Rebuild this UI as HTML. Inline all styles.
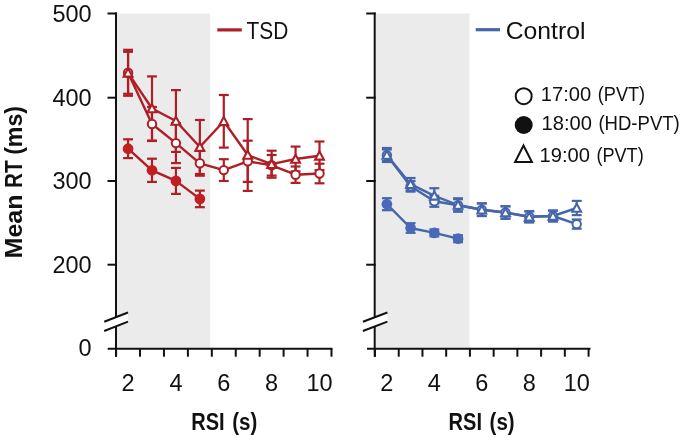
<!DOCTYPE html>
<html><head><meta charset="utf-8"><style>
html,body{margin:0;padding:0;background:#fff;width:680px;height:438px;overflow:hidden}
svg{display:block;will-change:transform;font-family:"Liberation Sans", sans-serif}
</style></head><body>
<svg width="680" height="438" viewBox="0 0 680 438">
<rect width="680" height="438" fill="#fff"/>
<rect x="117" y="13.5" width="93.20" height="335.20" fill="#EBEBEB"/>
<line x1="116.0" y1="12.5" x2="116.0" y2="356.7" stroke="#111" stroke-width="2"/>
<line x1="107.5" y1="13.5" x2="117.0" y2="13.5" stroke="#111" stroke-width="2"/>
<line x1="107.5" y1="97.7" x2="117.0" y2="97.7" stroke="#111" stroke-width="2"/>
<line x1="107.5" y1="181.0" x2="117.0" y2="181.0" stroke="#111" stroke-width="2"/>
<line x1="107.5" y1="264.7" x2="117.0" y2="264.7" stroke="#111" stroke-width="2"/>
<line x1="107.7" y1="348.7" x2="332.5" y2="348.7" stroke="#111" stroke-width="2"/>
<line x1="116.10" y1="348.7" x2="116.10" y2="356.7" stroke="#111" stroke-width="2"/>
<line x1="140.03" y1="348.7" x2="140.03" y2="356.7" stroke="#111" stroke-width="2"/>
<line x1="163.96" y1="348.7" x2="163.96" y2="356.7" stroke="#111" stroke-width="2"/>
<line x1="187.89" y1="348.7" x2="187.89" y2="356.7" stroke="#111" stroke-width="2"/>
<line x1="211.82" y1="348.7" x2="211.82" y2="356.7" stroke="#111" stroke-width="2"/>
<line x1="235.75" y1="348.7" x2="235.75" y2="356.7" stroke="#111" stroke-width="2"/>
<line x1="259.68" y1="348.7" x2="259.68" y2="356.7" stroke="#111" stroke-width="2"/>
<line x1="283.61" y1="348.7" x2="283.61" y2="356.7" stroke="#111" stroke-width="2"/>
<line x1="307.54" y1="348.7" x2="307.54" y2="356.7" stroke="#111" stroke-width="2"/>
<line x1="331.47" y1="348.7" x2="331.47" y2="356.7" stroke="#111" stroke-width="2"/>
<polygon points="104.2,321.7 128.0,312.5 128.0,321.6 104.2,331" fill="#fff"/>
<line x1="104.2" y1="321.7" x2="128.0" y2="312.5" stroke="#111" stroke-width="2"/>
<line x1="104.2" y1="331" x2="128.0" y2="321.6" stroke="#111" stroke-width="2"/>
<polyline points="128.06,72.80 152.00,124.00 175.93,143.10 199.85,163.30 223.78,170.10 247.72,161.30 271.64,165.30 295.57,174.70 319.50,173.50" fill="none" stroke="#AE1E24" stroke-width="2.4" stroke-linejoin="round"/>
<polyline points="128.06,148.70 152.00,170.30 175.93,180.90 199.85,198.90" fill="none" stroke="#AE1E24" stroke-width="2.4" stroke-linejoin="round"/>
<polyline points="128.06,72.80 152.00,108.50 175.93,121.00 199.85,147.00 223.78,121.30 247.72,155.00 271.64,164.20 295.57,159.00 319.50,155.80" fill="none" stroke="#AE1E24" stroke-width="2.4" stroke-linejoin="round"/>
<line x1="128.06" y1="51.80" x2="128.06" y2="93.80" stroke="#AE1E24" stroke-width="2.2"/>
<line x1="123.11" y1="51.80" x2="133.01" y2="51.80" stroke="#AE1E24" stroke-width="2.2"/>
<line x1="123.11" y1="93.80" x2="133.01" y2="93.80" stroke="#AE1E24" stroke-width="2.2"/>
<line x1="152.00" y1="107.00" x2="152.00" y2="141.00" stroke="#AE1E24" stroke-width="2.2"/>
<line x1="147.05" y1="107.00" x2="156.94" y2="107.00" stroke="#AE1E24" stroke-width="2.2"/>
<line x1="147.05" y1="141.00" x2="156.94" y2="141.00" stroke="#AE1E24" stroke-width="2.2"/>
<line x1="175.93" y1="123.10" x2="175.93" y2="163.10" stroke="#AE1E24" stroke-width="2.2"/>
<line x1="170.98" y1="123.10" x2="180.88" y2="123.10" stroke="#AE1E24" stroke-width="2.2"/>
<line x1="170.98" y1="163.10" x2="180.88" y2="163.10" stroke="#AE1E24" stroke-width="2.2"/>
<line x1="199.85" y1="150.90" x2="199.85" y2="175.70" stroke="#AE1E24" stroke-width="2.2"/>
<line x1="194.91" y1="150.90" x2="204.80" y2="150.90" stroke="#AE1E24" stroke-width="2.2"/>
<line x1="194.91" y1="175.70" x2="204.80" y2="175.70" stroke="#AE1E24" stroke-width="2.2"/>
<line x1="223.78" y1="159.20" x2="223.78" y2="181.00" stroke="#AE1E24" stroke-width="2.2"/>
<line x1="218.84" y1="159.20" x2="228.73" y2="159.20" stroke="#AE1E24" stroke-width="2.2"/>
<line x1="218.84" y1="181.00" x2="228.73" y2="181.00" stroke="#AE1E24" stroke-width="2.2"/>
<line x1="247.72" y1="140.70" x2="247.72" y2="181.90" stroke="#AE1E24" stroke-width="2.2"/>
<line x1="242.77" y1="140.70" x2="252.66" y2="140.70" stroke="#AE1E24" stroke-width="2.2"/>
<line x1="242.77" y1="181.90" x2="252.66" y2="181.90" stroke="#AE1E24" stroke-width="2.2"/>
<line x1="271.64" y1="155.00" x2="271.64" y2="175.60" stroke="#AE1E24" stroke-width="2.2"/>
<line x1="266.69" y1="155.00" x2="276.59" y2="155.00" stroke="#AE1E24" stroke-width="2.2"/>
<line x1="266.69" y1="175.60" x2="276.59" y2="175.60" stroke="#AE1E24" stroke-width="2.2"/>
<line x1="295.57" y1="166.50" x2="295.57" y2="182.90" stroke="#AE1E24" stroke-width="2.2"/>
<line x1="290.62" y1="166.50" x2="300.52" y2="166.50" stroke="#AE1E24" stroke-width="2.2"/>
<line x1="290.62" y1="182.90" x2="300.52" y2="182.90" stroke="#AE1E24" stroke-width="2.2"/>
<line x1="319.50" y1="163.70" x2="319.50" y2="183.30" stroke="#AE1E24" stroke-width="2.2"/>
<line x1="314.56" y1="163.70" x2="324.45" y2="163.70" stroke="#AE1E24" stroke-width="2.2"/>
<line x1="314.56" y1="183.30" x2="324.45" y2="183.30" stroke="#AE1E24" stroke-width="2.2"/>
<line x1="128.06" y1="139.30" x2="128.06" y2="158.10" stroke="#AE1E24" stroke-width="2.2"/>
<line x1="123.11" y1="139.30" x2="133.01" y2="139.30" stroke="#AE1E24" stroke-width="2.2"/>
<line x1="123.11" y1="158.10" x2="133.01" y2="158.10" stroke="#AE1E24" stroke-width="2.2"/>
<line x1="152.00" y1="158.70" x2="152.00" y2="181.90" stroke="#AE1E24" stroke-width="2.2"/>
<line x1="147.05" y1="158.70" x2="156.94" y2="158.70" stroke="#AE1E24" stroke-width="2.2"/>
<line x1="147.05" y1="181.90" x2="156.94" y2="181.90" stroke="#AE1E24" stroke-width="2.2"/>
<line x1="175.93" y1="167.90" x2="175.93" y2="193.90" stroke="#AE1E24" stroke-width="2.2"/>
<line x1="170.98" y1="167.90" x2="180.88" y2="167.90" stroke="#AE1E24" stroke-width="2.2"/>
<line x1="170.98" y1="193.90" x2="180.88" y2="193.90" stroke="#AE1E24" stroke-width="2.2"/>
<line x1="199.85" y1="190.60" x2="199.85" y2="207.20" stroke="#AE1E24" stroke-width="2.2"/>
<line x1="194.91" y1="190.60" x2="204.80" y2="190.60" stroke="#AE1E24" stroke-width="2.2"/>
<line x1="194.91" y1="207.20" x2="204.80" y2="207.20" stroke="#AE1E24" stroke-width="2.2"/>
<line x1="128.06" y1="49.80" x2="128.06" y2="95.80" stroke="#AE1E24" stroke-width="2.2"/>
<line x1="123.11" y1="49.80" x2="133.01" y2="49.80" stroke="#AE1E24" stroke-width="2.2"/>
<line x1="123.11" y1="95.80" x2="133.01" y2="95.80" stroke="#AE1E24" stroke-width="2.2"/>
<line x1="152.00" y1="76.40" x2="152.00" y2="140.60" stroke="#AE1E24" stroke-width="2.2"/>
<line x1="147.05" y1="76.40" x2="156.94" y2="76.40" stroke="#AE1E24" stroke-width="2.2"/>
<line x1="147.05" y1="140.60" x2="156.94" y2="140.60" stroke="#AE1E24" stroke-width="2.2"/>
<line x1="175.93" y1="90.10" x2="175.93" y2="151.90" stroke="#AE1E24" stroke-width="2.2"/>
<line x1="170.98" y1="90.10" x2="180.88" y2="90.10" stroke="#AE1E24" stroke-width="2.2"/>
<line x1="170.98" y1="151.90" x2="180.88" y2="151.90" stroke="#AE1E24" stroke-width="2.2"/>
<line x1="199.85" y1="120.00" x2="199.85" y2="174.00" stroke="#AE1E24" stroke-width="2.2"/>
<line x1="194.91" y1="120.00" x2="204.80" y2="120.00" stroke="#AE1E24" stroke-width="2.2"/>
<line x1="194.91" y1="174.00" x2="204.80" y2="174.00" stroke="#AE1E24" stroke-width="2.2"/>
<line x1="223.78" y1="95.00" x2="223.78" y2="147.60" stroke="#AE1E24" stroke-width="2.2"/>
<line x1="218.84" y1="95.00" x2="228.73" y2="95.00" stroke="#AE1E24" stroke-width="2.2"/>
<line x1="218.84" y1="147.60" x2="228.73" y2="147.60" stroke="#AE1E24" stroke-width="2.2"/>
<line x1="247.72" y1="119.10" x2="247.72" y2="190.90" stroke="#AE1E24" stroke-width="2.2"/>
<line x1="242.77" y1="119.10" x2="252.66" y2="119.10" stroke="#AE1E24" stroke-width="2.2"/>
<line x1="242.77" y1="190.90" x2="252.66" y2="190.90" stroke="#AE1E24" stroke-width="2.2"/>
<line x1="271.64" y1="150.70" x2="271.64" y2="177.70" stroke="#AE1E24" stroke-width="2.2"/>
<line x1="266.69" y1="150.70" x2="276.59" y2="150.70" stroke="#AE1E24" stroke-width="2.2"/>
<line x1="266.69" y1="177.70" x2="276.59" y2="177.70" stroke="#AE1E24" stroke-width="2.2"/>
<line x1="295.57" y1="146.60" x2="295.57" y2="171.40" stroke="#AE1E24" stroke-width="2.2"/>
<line x1="290.62" y1="146.60" x2="300.52" y2="146.60" stroke="#AE1E24" stroke-width="2.2"/>
<line x1="290.62" y1="171.40" x2="300.52" y2="171.40" stroke="#AE1E24" stroke-width="2.2"/>
<line x1="319.50" y1="141.50" x2="319.50" y2="170.10" stroke="#AE1E24" stroke-width="2.2"/>
<line x1="314.56" y1="141.50" x2="324.45" y2="141.50" stroke="#AE1E24" stroke-width="2.2"/>
<line x1="314.56" y1="170.10" x2="324.45" y2="170.10" stroke="#AE1E24" stroke-width="2.2"/>
<circle cx="128.06" cy="72.80" r="4.2" fill="#fff" stroke="#AE1E24" stroke-width="2"/>
<circle cx="152.00" cy="124.00" r="4.2" fill="#fff" stroke="#AE1E24" stroke-width="2"/>
<circle cx="175.93" cy="143.10" r="4.2" fill="#fff" stroke="#AE1E24" stroke-width="2"/>
<circle cx="199.85" cy="163.30" r="4.2" fill="#fff" stroke="#AE1E24" stroke-width="2"/>
<circle cx="223.78" cy="170.10" r="4.2" fill="#fff" stroke="#AE1E24" stroke-width="2"/>
<circle cx="247.72" cy="161.30" r="4.2" fill="#fff" stroke="#AE1E24" stroke-width="2"/>
<circle cx="271.64" cy="165.30" r="4.2" fill="#fff" stroke="#AE1E24" stroke-width="2"/>
<circle cx="295.57" cy="174.70" r="4.2" fill="#fff" stroke="#AE1E24" stroke-width="2"/>
<circle cx="319.50" cy="173.50" r="4.2" fill="#fff" stroke="#AE1E24" stroke-width="2"/>
<circle cx="128.06" cy="148.70" r="5.35" fill="#C21F22"/>
<circle cx="152.00" cy="170.30" r="5.35" fill="#C21F22"/>
<circle cx="175.93" cy="180.90" r="5.35" fill="#C21F22"/>
<circle cx="199.85" cy="198.90" r="5.35" fill="#C21F22"/>
<polygon points="128.06,68.50 132.47,76.60 123.66,76.60" fill="#fff" stroke="#AE1E24" stroke-width="2.1" stroke-linejoin="miter"/>
<polygon points="152.00,104.20 156.40,112.30 147.59,112.30" fill="#fff" stroke="#AE1E24" stroke-width="2.1" stroke-linejoin="miter"/>
<polygon points="175.93,116.70 180.33,124.80 171.53,124.80" fill="#fff" stroke="#AE1E24" stroke-width="2.1" stroke-linejoin="miter"/>
<polygon points="199.85,142.70 204.25,150.80 195.45,150.80" fill="#fff" stroke="#AE1E24" stroke-width="2.1" stroke-linejoin="miter"/>
<polygon points="223.78,117.00 228.19,125.10 219.38,125.10" fill="#fff" stroke="#AE1E24" stroke-width="2.1" stroke-linejoin="miter"/>
<polygon points="247.72,150.70 252.12,158.80 243.31,158.80" fill="#fff" stroke="#AE1E24" stroke-width="2.1" stroke-linejoin="miter"/>
<polygon points="271.64,159.90 276.04,168.00 267.25,168.00" fill="#fff" stroke="#AE1E24" stroke-width="2.1" stroke-linejoin="miter"/>
<polygon points="295.57,154.70 299.97,162.80 291.18,162.80" fill="#fff" stroke="#AE1E24" stroke-width="2.1" stroke-linejoin="miter"/>
<polygon points="319.50,151.50 323.90,159.60 315.11,159.60" fill="#fff" stroke="#AE1E24" stroke-width="2.1" stroke-linejoin="miter"/>
<rect x="375.7" y="13.5" width="93.70" height="335.20" fill="#EBEBEB"/>
<line x1="374.7" y1="12.5" x2="374.7" y2="356.7" stroke="#111" stroke-width="2"/>
<line x1="366.2" y1="13.5" x2="375.7" y2="13.5" stroke="#111" stroke-width="2"/>
<line x1="366.2" y1="97.7" x2="375.7" y2="97.7" stroke="#111" stroke-width="2"/>
<line x1="366.2" y1="181.0" x2="375.7" y2="181.0" stroke="#111" stroke-width="2"/>
<line x1="366.2" y1="264.7" x2="375.7" y2="264.7" stroke="#111" stroke-width="2"/>
<line x1="367.0" y1="348.7" x2="590.5" y2="348.7" stroke="#111" stroke-width="2"/>
<line x1="375.00" y1="348.7" x2="375.00" y2="356.7" stroke="#111" stroke-width="2"/>
<line x1="398.73" y1="348.7" x2="398.73" y2="356.7" stroke="#111" stroke-width="2"/>
<line x1="422.46" y1="348.7" x2="422.46" y2="356.7" stroke="#111" stroke-width="2"/>
<line x1="446.19" y1="348.7" x2="446.19" y2="356.7" stroke="#111" stroke-width="2"/>
<line x1="469.92" y1="348.7" x2="469.92" y2="356.7" stroke="#111" stroke-width="2"/>
<line x1="493.65" y1="348.7" x2="493.65" y2="356.7" stroke="#111" stroke-width="2"/>
<line x1="517.38" y1="348.7" x2="517.38" y2="356.7" stroke="#111" stroke-width="2"/>
<line x1="541.11" y1="348.7" x2="541.11" y2="356.7" stroke="#111" stroke-width="2"/>
<line x1="564.84" y1="348.7" x2="564.84" y2="356.7" stroke="#111" stroke-width="2"/>
<line x1="588.57" y1="348.7" x2="588.57" y2="356.7" stroke="#111" stroke-width="2"/>
<polygon points="362.9,321.7 387.4,312.5 387.4,321.6 362.9,331" fill="#fff"/>
<line x1="362.9" y1="321.7" x2="387.4" y2="312.5" stroke="#111" stroke-width="2"/>
<line x1="362.9" y1="331" x2="387.4" y2="321.6" stroke="#111" stroke-width="2"/>
<polyline points="386.87,155.30 410.60,186.30 434.32,201.30 458.06,205.20 481.78,209.70 505.51,212.50 529.25,216.80 552.98,216.00 576.71,224.10" fill="none" stroke="#4666AA" stroke-width="2.4" stroke-linejoin="round"/>
<polyline points="386.87,204.20 410.60,228.00 434.32,232.90 458.06,238.70" fill="none" stroke="#4666AA" stroke-width="2.4" stroke-linejoin="round"/>
<polyline points="386.87,155.00 410.60,184.20 434.32,195.80 458.06,205.00 481.78,209.70 505.51,212.50 529.25,216.80 552.98,216.00 576.71,208.00" fill="none" stroke="#4666AA" stroke-width="2.4" stroke-linejoin="round"/>
<line x1="386.87" y1="149.50" x2="386.87" y2="161.10" stroke="#4666AA" stroke-width="2.2"/>
<line x1="381.92" y1="149.50" x2="391.81" y2="149.50" stroke="#4666AA" stroke-width="2.2"/>
<line x1="381.92" y1="161.10" x2="391.81" y2="161.10" stroke="#4666AA" stroke-width="2.2"/>
<line x1="410.60" y1="181.00" x2="410.60" y2="191.60" stroke="#4666AA" stroke-width="2.2"/>
<line x1="405.65" y1="181.00" x2="415.55" y2="181.00" stroke="#4666AA" stroke-width="2.2"/>
<line x1="405.65" y1="191.60" x2="415.55" y2="191.60" stroke="#4666AA" stroke-width="2.2"/>
<line x1="434.32" y1="195.80" x2="434.32" y2="206.80" stroke="#4666AA" stroke-width="2.2"/>
<line x1="429.38" y1="195.80" x2="439.27" y2="195.80" stroke="#4666AA" stroke-width="2.2"/>
<line x1="429.38" y1="206.80" x2="439.27" y2="206.80" stroke="#4666AA" stroke-width="2.2"/>
<line x1="458.06" y1="199.20" x2="458.06" y2="211.20" stroke="#4666AA" stroke-width="2.2"/>
<line x1="453.11" y1="199.20" x2="463.00" y2="199.20" stroke="#4666AA" stroke-width="2.2"/>
<line x1="453.11" y1="211.20" x2="463.00" y2="211.20" stroke="#4666AA" stroke-width="2.2"/>
<line x1="481.78" y1="203.40" x2="481.78" y2="216.00" stroke="#4666AA" stroke-width="2.2"/>
<line x1="476.83" y1="203.40" x2="486.73" y2="203.40" stroke="#4666AA" stroke-width="2.2"/>
<line x1="476.83" y1="216.00" x2="486.73" y2="216.00" stroke="#4666AA" stroke-width="2.2"/>
<line x1="505.51" y1="206.30" x2="505.51" y2="218.70" stroke="#4666AA" stroke-width="2.2"/>
<line x1="500.56" y1="206.30" x2="510.46" y2="206.30" stroke="#4666AA" stroke-width="2.2"/>
<line x1="500.56" y1="218.70" x2="510.46" y2="218.70" stroke="#4666AA" stroke-width="2.2"/>
<line x1="529.25" y1="211.30" x2="529.25" y2="222.30" stroke="#4666AA" stroke-width="2.2"/>
<line x1="524.29" y1="211.30" x2="534.20" y2="211.30" stroke="#4666AA" stroke-width="2.2"/>
<line x1="524.29" y1="222.30" x2="534.20" y2="222.30" stroke="#4666AA" stroke-width="2.2"/>
<line x1="552.98" y1="210.60" x2="552.98" y2="221.40" stroke="#4666AA" stroke-width="2.2"/>
<line x1="548.02" y1="210.60" x2="557.93" y2="210.60" stroke="#4666AA" stroke-width="2.2"/>
<line x1="548.02" y1="221.40" x2="557.93" y2="221.40" stroke="#4666AA" stroke-width="2.2"/>
<line x1="576.71" y1="219.50" x2="576.71" y2="228.70" stroke="#4666AA" stroke-width="2.2"/>
<line x1="571.75" y1="219.50" x2="581.66" y2="219.50" stroke="#4666AA" stroke-width="2.2"/>
<line x1="571.75" y1="228.70" x2="581.66" y2="228.70" stroke="#4666AA" stroke-width="2.2"/>
<line x1="386.87" y1="198.20" x2="386.87" y2="210.20" stroke="#4666AA" stroke-width="2.2"/>
<line x1="381.92" y1="198.20" x2="391.81" y2="198.20" stroke="#4666AA" stroke-width="2.2"/>
<line x1="381.92" y1="210.20" x2="391.81" y2="210.20" stroke="#4666AA" stroke-width="2.2"/>
<line x1="410.60" y1="223.20" x2="410.60" y2="232.80" stroke="#4666AA" stroke-width="2.2"/>
<line x1="405.65" y1="223.20" x2="415.55" y2="223.20" stroke="#4666AA" stroke-width="2.2"/>
<line x1="405.65" y1="232.80" x2="415.55" y2="232.80" stroke="#4666AA" stroke-width="2.2"/>
<line x1="434.32" y1="229.40" x2="434.32" y2="236.40" stroke="#4666AA" stroke-width="2.2"/>
<line x1="429.38" y1="229.40" x2="439.27" y2="229.40" stroke="#4666AA" stroke-width="2.2"/>
<line x1="429.38" y1="236.40" x2="439.27" y2="236.40" stroke="#4666AA" stroke-width="2.2"/>
<line x1="458.06" y1="235.20" x2="458.06" y2="242.20" stroke="#4666AA" stroke-width="2.2"/>
<line x1="453.11" y1="235.20" x2="463.00" y2="235.20" stroke="#4666AA" stroke-width="2.2"/>
<line x1="453.11" y1="242.20" x2="463.00" y2="242.20" stroke="#4666AA" stroke-width="2.2"/>
<line x1="386.87" y1="148.00" x2="386.87" y2="162.00" stroke="#4666AA" stroke-width="2.2"/>
<line x1="381.92" y1="148.00" x2="391.81" y2="148.00" stroke="#4666AA" stroke-width="2.2"/>
<line x1="381.92" y1="162.00" x2="391.81" y2="162.00" stroke="#4666AA" stroke-width="2.2"/>
<line x1="410.60" y1="178.00" x2="410.60" y2="190.40" stroke="#4666AA" stroke-width="2.2"/>
<line x1="405.65" y1="178.00" x2="415.55" y2="178.00" stroke="#4666AA" stroke-width="2.2"/>
<line x1="405.65" y1="190.40" x2="415.55" y2="190.40" stroke="#4666AA" stroke-width="2.2"/>
<line x1="434.32" y1="188.20" x2="434.32" y2="203.40" stroke="#4666AA" stroke-width="2.2"/>
<line x1="429.38" y1="188.20" x2="439.27" y2="188.20" stroke="#4666AA" stroke-width="2.2"/>
<line x1="429.38" y1="203.40" x2="439.27" y2="203.40" stroke="#4666AA" stroke-width="2.2"/>
<line x1="458.06" y1="198.30" x2="458.06" y2="211.70" stroke="#4666AA" stroke-width="2.2"/>
<line x1="453.11" y1="198.30" x2="463.00" y2="198.30" stroke="#4666AA" stroke-width="2.2"/>
<line x1="453.11" y1="211.70" x2="463.00" y2="211.70" stroke="#4666AA" stroke-width="2.2"/>
<line x1="481.78" y1="203.40" x2="481.78" y2="216.00" stroke="#4666AA" stroke-width="2.2"/>
<line x1="476.83" y1="203.40" x2="486.73" y2="203.40" stroke="#4666AA" stroke-width="2.2"/>
<line x1="476.83" y1="216.00" x2="486.73" y2="216.00" stroke="#4666AA" stroke-width="2.2"/>
<line x1="505.51" y1="206.30" x2="505.51" y2="218.70" stroke="#4666AA" stroke-width="2.2"/>
<line x1="500.56" y1="206.30" x2="510.46" y2="206.30" stroke="#4666AA" stroke-width="2.2"/>
<line x1="500.56" y1="218.70" x2="510.46" y2="218.70" stroke="#4666AA" stroke-width="2.2"/>
<line x1="529.25" y1="211.30" x2="529.25" y2="222.30" stroke="#4666AA" stroke-width="2.2"/>
<line x1="524.29" y1="211.30" x2="534.20" y2="211.30" stroke="#4666AA" stroke-width="2.2"/>
<line x1="524.29" y1="222.30" x2="534.20" y2="222.30" stroke="#4666AA" stroke-width="2.2"/>
<line x1="552.98" y1="210.60" x2="552.98" y2="221.40" stroke="#4666AA" stroke-width="2.2"/>
<line x1="548.02" y1="210.60" x2="557.93" y2="210.60" stroke="#4666AA" stroke-width="2.2"/>
<line x1="548.02" y1="221.40" x2="557.93" y2="221.40" stroke="#4666AA" stroke-width="2.2"/>
<line x1="576.71" y1="200.90" x2="576.71" y2="215.10" stroke="#4666AA" stroke-width="2.2"/>
<line x1="571.75" y1="200.90" x2="581.66" y2="200.90" stroke="#4666AA" stroke-width="2.2"/>
<line x1="571.75" y1="215.10" x2="581.66" y2="215.10" stroke="#4666AA" stroke-width="2.2"/>
<circle cx="386.87" cy="155.30" r="4.2" fill="#fff" stroke="#4666AA" stroke-width="2"/>
<circle cx="410.60" cy="186.30" r="4.2" fill="#fff" stroke="#4666AA" stroke-width="2"/>
<circle cx="434.32" cy="201.30" r="4.2" fill="#fff" stroke="#4666AA" stroke-width="2"/>
<circle cx="458.06" cy="205.20" r="4.2" fill="#fff" stroke="#4666AA" stroke-width="2"/>
<circle cx="481.78" cy="209.70" r="4.2" fill="#fff" stroke="#4666AA" stroke-width="2"/>
<circle cx="505.51" cy="212.50" r="4.2" fill="#fff" stroke="#4666AA" stroke-width="2"/>
<circle cx="529.25" cy="216.80" r="4.2" fill="#fff" stroke="#4666AA" stroke-width="2"/>
<circle cx="552.98" cy="216.00" r="4.2" fill="#fff" stroke="#4666AA" stroke-width="2"/>
<circle cx="576.71" cy="224.10" r="4.2" fill="#fff" stroke="#4666AA" stroke-width="2"/>
<circle cx="386.87" cy="204.20" r="5.35" fill="#4769B8"/>
<circle cx="410.60" cy="228.00" r="5.35" fill="#4769B8"/>
<circle cx="434.32" cy="232.90" r="5.35" fill="#4769B8"/>
<circle cx="458.06" cy="238.70" r="5.35" fill="#4769B8"/>
<polygon points="386.87,150.70 391.26,158.80 382.47,158.80" fill="#fff" stroke="#4666AA" stroke-width="2.1" stroke-linejoin="miter"/>
<polygon points="410.60,179.90 415.00,188.00 406.20,188.00" fill="#fff" stroke="#4666AA" stroke-width="2.1" stroke-linejoin="miter"/>
<polygon points="434.32,191.50 438.72,199.60 429.93,199.60" fill="#fff" stroke="#4666AA" stroke-width="2.1" stroke-linejoin="miter"/>
<polygon points="458.06,200.70 462.45,208.80 453.66,208.80" fill="#fff" stroke="#4666AA" stroke-width="2.1" stroke-linejoin="miter"/>
<polygon points="481.78,205.40 486.18,213.50 477.38,213.50" fill="#fff" stroke="#4666AA" stroke-width="2.1" stroke-linejoin="miter"/>
<polygon points="505.51,208.20 509.91,216.30 501.12,216.30" fill="#fff" stroke="#4666AA" stroke-width="2.1" stroke-linejoin="miter"/>
<polygon points="529.25,212.50 533.64,220.60 524.85,220.60" fill="#fff" stroke="#4666AA" stroke-width="2.1" stroke-linejoin="miter"/>
<polygon points="552.98,211.70 557.38,219.80 548.58,219.80" fill="#fff" stroke="#4666AA" stroke-width="2.1" stroke-linejoin="miter"/>
<polygon points="576.71,203.70 581.11,211.80 572.31,211.80" fill="#fff" stroke="#4666AA" stroke-width="2.1" stroke-linejoin="miter"/>
<line x1="217.3" y1="29.9" x2="241.8" y2="29.9" stroke="#AE1E24" stroke-width="3.2"/>
<line x1="475.7" y1="29.7" x2="500" y2="29.7" stroke="#4666AA" stroke-width="3.2"/>
<circle cx="523.7" cy="96.2" r="8" fill="#fff" stroke="#111" stroke-width="2"/>
<circle cx="523.7" cy="125" r="9" fill="#111"/>
<polygon points="523.5,145.5 531.9,162.1 515.1,162.1" fill="none" stroke="#111" stroke-width="2" stroke-linejoin="miter"/>
<text transform="translate(91.60,21.70) scale(1.000,1)" x="0" y="0" font-size="23.5" font-weight="normal" text-anchor="end" fill="#111">500</text>
<text transform="translate(91.60,105.90) scale(1.000,1)" x="0" y="0" font-size="23.5" font-weight="normal" text-anchor="end" fill="#111">400</text>
<text transform="translate(91.60,189.20) scale(1.000,1)" x="0" y="0" font-size="23.5" font-weight="normal" text-anchor="end" fill="#111">300</text>
<text transform="translate(91.60,272.90) scale(1.000,1)" x="0" y="0" font-size="23.5" font-weight="normal" text-anchor="end" fill="#111">200</text>
<text transform="translate(91.60,356.20) scale(1.000,1)" x="0" y="0" font-size="23.5" font-weight="normal" text-anchor="end" fill="#111">0</text>
<text transform="translate(128.06,390.80) scale(1.000,1)" x="0" y="0" font-size="23.5" font-weight="normal" text-anchor="middle" fill="#111">2</text>
<text transform="translate(175.93,390.80) scale(1.000,1)" x="0" y="0" font-size="23.5" font-weight="normal" text-anchor="middle" fill="#111">4</text>
<text transform="translate(223.78,390.80) scale(1.000,1)" x="0" y="0" font-size="23.5" font-weight="normal" text-anchor="middle" fill="#111">6</text>
<text transform="translate(271.64,390.80) scale(1.000,1)" x="0" y="0" font-size="23.5" font-weight="normal" text-anchor="middle" fill="#111">8</text>
<text transform="translate(319.50,390.80) scale(1.000,1)" x="0" y="0" font-size="23.5" font-weight="normal" text-anchor="middle" fill="#111">10</text>
<text transform="translate(386.87,390.80) scale(1.000,1)" x="0" y="0" font-size="23.5" font-weight="normal" text-anchor="middle" fill="#111">2</text>
<text transform="translate(434.32,390.80) scale(1.000,1)" x="0" y="0" font-size="23.5" font-weight="normal" text-anchor="middle" fill="#111">4</text>
<text transform="translate(481.78,390.80) scale(1.000,1)" x="0" y="0" font-size="23.5" font-weight="normal" text-anchor="middle" fill="#111">6</text>
<text transform="translate(529.25,390.80) scale(1.000,1)" x="0" y="0" font-size="23.5" font-weight="normal" text-anchor="middle" fill="#111">8</text>
<text transform="translate(576.71,390.80) scale(1.000,1)" x="0" y="0" font-size="23.5" font-weight="normal" text-anchor="middle" fill="#111">10</text>
<text transform="translate(191.20,429.70) scale(0.860,1)" x="0" y="0" font-size="23.3" font-weight="bold" text-anchor="start" fill="#111">RSI</text>
<text transform="translate(232.17,429.70) scale(0.880,1)" x="0" y="0" font-size="23.3" font-weight="bold" text-anchor="start" fill="#111">(s)</text>
<text transform="translate(448.60,429.70) scale(0.860,1)" x="0" y="0" font-size="23.3" font-weight="bold" text-anchor="start" fill="#111">RSI</text>
<text transform="translate(489.57,429.70) scale(0.880,1)" x="0" y="0" font-size="23.3" font-weight="bold" text-anchor="start" fill="#111">(s)</text>
<text transform="translate(21.90,258.46) rotate(-90) scale(1.032,1)" x="0" y="0" font-size="24.3" font-weight="bold" text-anchor="start" fill="#111">Mean</text>
<text transform="translate(21.90,187.95) rotate(-90) scale(0.855,1)" x="0" y="0" font-size="24.3" font-weight="bold" text-anchor="start" fill="#111">RT</text>
<text transform="translate(21.90,154.86) rotate(-90) scale(0.953,1)" x="0" y="0" font-size="24.3" font-weight="bold" text-anchor="start" fill="#111">(ms)</text>
<text transform="translate(246.60,38.90) scale(0.870,1)" x="0" y="0" font-size="24" font-weight="normal" text-anchor="start" fill="#111">TSD</text>
<text transform="translate(505.70,39.20) scale(1.030,1)" x="0" y="0" font-size="24" font-weight="normal" text-anchor="start" fill="#111">Control</text>
<text transform="translate(540.79,100.90) scale(1.035,1)" x="0" y="0" font-size="19.5" font-weight="normal" text-anchor="start" fill="#111">17:00</text>
<text transform="translate(597.81,100.90) scale(0.930,1)" x="0" y="0" font-size="19.5" font-weight="normal" text-anchor="start" fill="#111">(PVT)</text>
<text transform="translate(541.49,130.00) scale(1.035,1)" x="0" y="0" font-size="19.5" font-weight="normal" text-anchor="start" fill="#111">18:00</text>
<text transform="translate(598.39,130.00) scale(0.952,1)" x="0" y="0" font-size="19.5" font-weight="normal" text-anchor="start" fill="#111">(HD-PVT)</text>
<text transform="translate(539.49,161.60) scale(1.035,1)" x="0" y="0" font-size="19.5" font-weight="normal" text-anchor="start" fill="#111">19:00</text>
<text transform="translate(596.41,161.60) scale(0.930,1)" x="0" y="0" font-size="19.5" font-weight="normal" text-anchor="start" fill="#111">(PVT)</text>
</svg>
</body></html>
